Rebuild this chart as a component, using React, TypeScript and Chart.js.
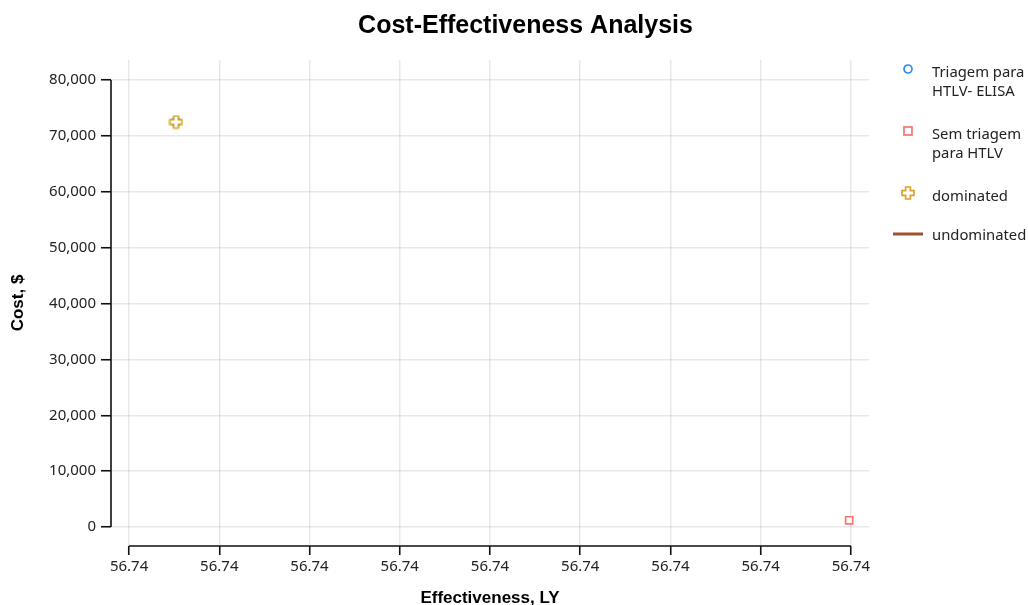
import React, { useEffect, useRef } from "react";
import { Chart, registerables } from "chart.js";

Chart.register(...registerables);

// ---- data ----
const strategies = ["Triagem para HTLV- ELISA", "Sem triagem para HTLV"];
const effectiveness = [56.74026, 56.74399];
const costs = [72500, 1200];
const dominatedIdx = [0];
const undominatedIdx = [1];
const xTicks = [56.74, 56.7405, 56.741, 56.7415, 56.742, 56.7425, 56.743, 56.7435, 56.744];
const yTicks = [0, 10000, 20000, 30000, 40000, 50000, 60000, 70000, 80000];

const COLORS = {
  s0: "#2a8cf0",
  s1: "#f8766d",
  dom: "#dba32a",
  undom: "#a0522d",
};

function makePlus(): HTMLCanvasElement {
  const c = document.createElement("canvas");
  c.width = 15;
  c.height = 15;
  const g = c.getContext("2d")!;
  const cx = 7.5, cy = 7.5, a = 2.4, L = 6;
  g.beginPath();
  g.moveTo(cx - a, cy - L);
  g.lineTo(cx + a, cy - L);
  g.lineTo(cx + a, cy - a);
  g.lineTo(cx + L, cy - a);
  g.lineTo(cx + L, cy + a);
  g.lineTo(cx + a, cy + a);
  g.lineTo(cx + a, cy + L);
  g.lineTo(cx - a, cy + L);
  g.lineTo(cx - a, cy + a);
  g.lineTo(cx - L, cy + a);
  g.lineTo(cx - L, cy - a);
  g.lineTo(cx - a, cy - a);
  g.closePath();
  g.fillStyle = "#ffffff";
  g.fill();
  g.strokeStyle = COLORS.dom;
  g.lineWidth = 1.7;
  g.stroke();
  return c;
}

const offsetAxes = {
  id: "offsetAxes",
  afterDraw(chart: any) {
    const { ctx, chartArea, scales } = chart;
    const x = scales.x, y = scales.y;
    ctx.save();
    ctx.strokeStyle = "#111";
    ctx.lineWidth = 1.6;
    ctx.beginPath();
    ctx.moveTo(chartArea.left, y.getPixelForValue(yTicks[0]));
    ctx.lineTo(chartArea.left, y.getPixelForValue(yTicks[yTicks.length - 1]));
    ctx.moveTo(x.getPixelForValue(xTicks[0]), chartArea.bottom);
    ctx.lineTo(x.getPixelForValue(xTicks[xTicks.length - 1]), chartArea.bottom);
    ctx.stroke();
    ctx.restore();
  },
};

function Legend() {
  const textStyle: React.CSSProperties = {
    position: "absolute",
    left: 932,
    fontFamily: "'Noto Sans', sans-serif",
    fontSize: 14.8,
    lineHeight: "19px",
    color: "#222",
    whiteSpace: "nowrap",
  };
  return (
    <>
      <svg style={{ position: "absolute", left: 901, top: 62 }} width={14} height={14}>
        <circle cx={7} cy={7} r={4} fill="#fff" stroke={COLORS.s0} strokeWidth={1.7} />
      </svg>
      <div style={{ ...textStyle, top: 62 }}>Triagem para<br />HTLV- ELISA</div>
      <svg style={{ position: "absolute", left: 901, top: 124 }} width={14} height={14}>
        <rect x={3} y={3} width={8} height={8} fill="#fff" stroke={COLORS.s1} strokeWidth={1.7} />
      </svg>
      <div style={{ ...textStyle, top: 124 }}>Sem triagem<br />para HTLV</div>
      <svg style={{ position: "absolute", left: 900, top: 185 }} width={16} height={16}>
        <path d="M5.6 2 H10.4 V5.6 H14 V10.4 H10.4 V14 H5.6 V10.4 H2 V5.6 H5.6 Z" fill="#fff" stroke={COLORS.dom} strokeWidth={1.7} />
      </svg>
      <div style={{ ...textStyle, top: 186 }}>dominated</div>
      <svg style={{ position: "absolute", left: 892, top: 230 }} width={32} height={8}>
        <line x1={1} y1={4} x2={31} y2={4} stroke={COLORS.undom} strokeWidth={3} />
      </svg>
      <div style={{ ...textStyle, top: 225 }}>undominated</div>
    </>
  );
}

export default function App() {
  const ref = useRef<HTMLCanvasElement>(null);

  useEffect(() => {
    if (!ref.current) return;
    const plus = makePlus();
    const pts = (idx: number[]) => idx.map((i) => ({ x: effectiveness[i], y: costs[i] }));
    const chart = new Chart(ref.current, {
      type: "scatter",
      data: {
        datasets: [
          {
            label: "dominated",
            data: pts(dominatedIdx),
            pointStyle: plus as any,
            order: 0,
          },
          {
            label: strategies[0],
            data: [{ x: effectiveness[0], y: costs[0] }],
            pointStyle: "circle",
            pointRadius: 4.5,
            borderColor: COLORS.s0,
            backgroundColor: "#fff",
            borderWidth: 1.7,
            order: 2,
          },
          {
            label: strategies[1],
            data: [{ x: effectiveness[1], y: costs[1] }],
            pointStyle: "rect",
            pointRadius: 5,
            borderColor: COLORS.s1,
            backgroundColor: "#fff",
            borderWidth: 1.7,
            order: 1,
          },
          {
            label: "undominated",
            data: pts(undominatedIdx),
            showLine: true,
            borderColor: COLORS.undom,
            borderWidth: 3,
            pointRadius: 0,
            order: 3,
          } as any,
        ],
      },
      options: {
        animation: false,
        responsive: true,
        maintainAspectRatio: false,
        layout: { padding: { left: 23, right: 0, top: 0, bottom: 0 } },
        plugins: {
          legend: { display: false },
          tooltip: { enabled: false },
          title: {
            display: true,
            text: "Cost-Effectiveness Analysis",
            color: "#000",
            font: { family: "'Liberation Sans', Arial, sans-serif", size: 25, weight: "bold" },
            padding: { top: 11, bottom: 19 },
          },
        },
        scales: {
          x: {
            type: "linear",
            min: 56.7399,
            max: 56.7441,
            afterBuildTicks: (s: any) => {
              s.ticks = xTicks.map((v) => ({ value: v }));
            },
            afterFit: (s: any) => {
              s.height = 59;
            },
            ticks: {
              callback: (v: any) => Number(v).toFixed(2),
              font: { family: "'Noto Sans', sans-serif", size: 15 },
              color: "#222",
              padding: 3,
              maxRotation: 0,
            },
            grid: {
              color: "rgba(0,0,0,0.09)",
              lineWidth: 1.5,
              tickColor: "#111",
              tickWidth: 1.6,
              tickLength: 9,
            },
            border: { display: false },
            title: {
              display: true,
              text: "Effectiveness, LY",
              color: "#000",
              font: { family: "'Liberation Sans', Arial, sans-serif", size: 17, weight: "bold" },
              padding: { top: 0, bottom: -4 },
            },
          },
          y: {
            type: "linear",
            min: -3400,
            max: 83600,
            afterBuildTicks: (s: any) => {
              s.ticks = yTicks.map((v) => ({ value: v }));
            },
            afterFit: (s: any) => {
              s.width = 88;
            },
            ticks: {
              callback: (v: any) => Number(v).toLocaleString("en-US"),
              font: { family: "'Noto Sans', sans-serif", size: 15 },
              color: "#222",
              padding: 5,
            },
            grid: {
              color: "rgba(0,0,0,0.09)",
              lineWidth: 1.5,
              tickColor: "#111",
              tickWidth: 1.6,
              tickLength: 10,
            },
            border: { display: false },
            title: {
              display: true,
              text: "Cost, $",
              color: "#000",
              font: { family: "'Liberation Sans', Arial, sans-serif", size: 17, weight: "bold" },
              padding: { top: -15, bottom: 0 },
            },
          },
          spacer: {
            type: "linear",
            position: "right",
            display: true,
            afterFit: (s: any) => {
              s.width = 159;
            },
            ticks: { display: false },
            grid: { display: false, drawTicks: false },
            border: { display: false },
          },
        },
      },
      plugins: [offsetAxes],
    });
    return () => chart.destroy();
  }, []);

  return (
    <div style={{ position: "absolute", left: 0, top: 0, width: 1028, height: 605, background: "#fff" }}>
      <canvas ref={ref} />
      <Legend />
    </div>
  );
}
